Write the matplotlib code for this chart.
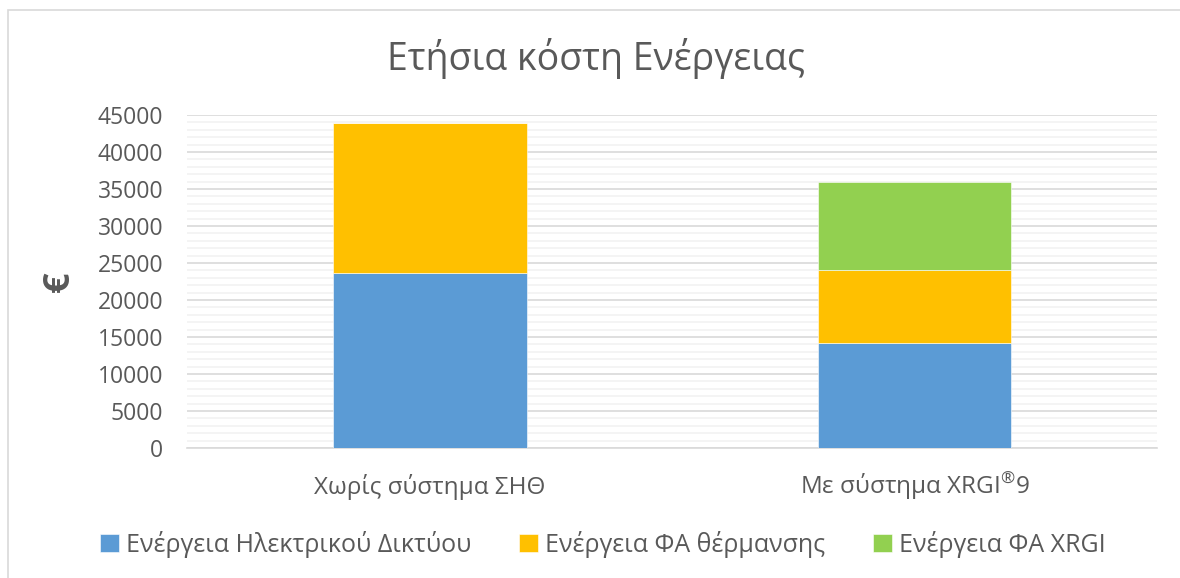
import numpy as np
import matplotlib.pyplot as plt
from matplotlib.patches import Rectangle
from matplotlib.ticker import MultipleLocator

# DATA
categories = ["Χωρίς σύστημα ΣΗΘ", "Με σύστημα XRGI$^{\\mathrm{®}}$9"]
series_names = ["Ενέργεια Ηλεκτρικού Δικτύου", "Ενέργεια ΦΑ θέρμανσης", "Ενέργεια ΦΑ XRGI"]
grid_energy = [23650, 14200]
heating_gas = [20250, 9850]
xrgi_gas = [0, 11900]

colors = ["#5B9BD5", "#FFC000", "#92D050"]
text_color = "#595959"

plt.rcParams['font.family'] = ['Open Sans', 'DejaVu Sans']
plt.rcParams['mathtext.fontset'] = 'custom'
plt.rcParams['mathtext.rm'] = 'Open Sans'

fig = plt.figure(figsize=(11.8, 5.78), dpi=100)
ax = fig.add_axes([0.1585, 0.2249, 0.822, 0.5761])

# chart border (top and left visible, rest cropped)
fig.patches.append(Rectangle((8/1180, -0.1), 1.2, 1.1 - 10.5/578, transform=fig.transFigure,
                             fill=False, edgecolor="#d9d9d9", lw=1.2))

x = np.arange(len(categories))
bottom = np.zeros(len(categories))
for name, vals, c in zip(series_names, [grid_energy, heating_gas, xrgi_gas], colors):
    vals = np.array(vals, dtype=float)
    ax.bar(x, vals, width=0.4, bottom=bottom, color=c, label=name, zorder=3,
           edgecolor="white", linewidth=0.4)
    bottom += vals

ax.set_xlim(-0.5, 1.5)
ax.set_ylim(0, 45000)
ax.yaxis.set_major_locator(MultipleLocator(5000))
ax.yaxis.set_minor_locator(MultipleLocator(1000))
ax.grid(axis="y", which="major", color="#d9d9d9", lw=1.2, zorder=0)
ax.grid(axis="y", which="minor", color="#f2f2f2", lw=1.2, zorder=0)
for s in ["top", "right", "left"]:
    ax.spines[s].set_visible(False)
ax.spines["bottom"].set_color("#d9d9d9")
ax.spines["bottom"].set_linewidth(1.2)

ax.set_xticks(x)
ax.set_xticklabels(categories)
ax.tick_params(axis="both", which="both", length=0, colors=text_color, labelsize=16.5)
ax.tick_params(axis="x", pad=33, labelsize=17.5)
ax.tick_params(axis="y", pad=17)
# align both category labels on the same baseline (superscript ® would shift one)
for lbl in ax.get_xticklabels():
    lbl.set_verticalalignment("baseline")

ax.set_ylabel("€", fontsize=26, color=text_color, fontweight="bold", labelpad=14)

fig.text(0.505, 0.898, "Ετήσια κόστη Ενέργειας", ha="center", va="center",
         fontsize=27, color=text_color)

leg = fig.legend(loc="center", bbox_to_anchor=(0.511, 0.058), ncol=3, frameon=False,
                 fontsize=18, handlelength=0.75, handleheight=0.75, handletextpad=0.3,
                 columnspacing=1.9, labelcolor=text_color)

fig.savefig("out.png", dpi=100)
